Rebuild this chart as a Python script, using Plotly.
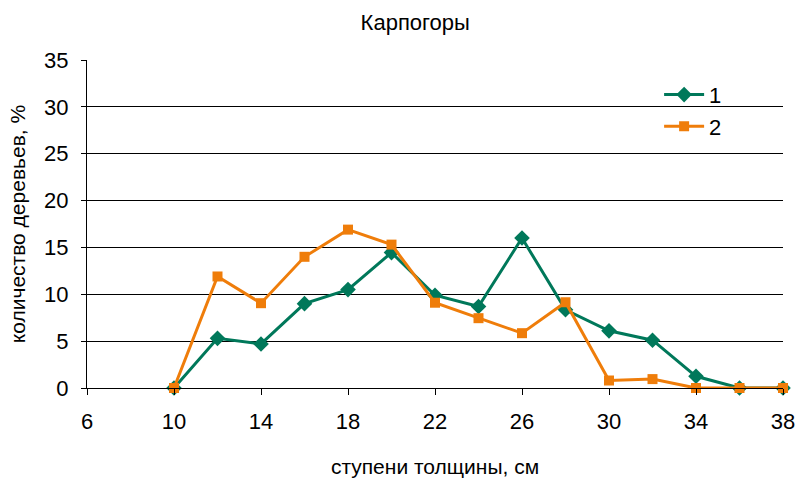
import plotly.graph_objects as go

x_vals = [10, 12, 14, 16, 18, 20, 22, 24, 26, 28, 30, 32, 34, 36, 38]
series1 = [0, 5.3, 4.7, 9.0, 10.5, 14.45, 9.9, 8.7, 16.0, 8.35, 6.1, 5.1, 1.25, 0, 0]
series2 = [0, 11.9, 9.05, 14.0, 16.9, 15.3, 9.1, 7.45, 5.85, 9.15, 0.8, 0.95, 0, 0, 0]
x_ticks = [6, 10, 14, 18, 22, 26, 30, 34, 38]
y_ticks = [0, 5, 10, 15, 20, 25, 30, 35]

green = "#00785A"
orange = "#EF7D0A"
font = "Liberation Sans, Arial, sans-serif"

fig = go.Figure()
fig.add_trace(go.Scatter(x=x_vals, y=series1, name="1", mode="lines+markers",
                         line=dict(color=green, width=3),
                         marker=dict(symbol="diamond", size=12, color=green),
                         cliponaxis=False, legendgroup="a"))
fig.add_trace(go.Scatter(x=x_vals, y=series2, name="2", mode="lines+markers",
                         line=dict(color=orange, width=3),
                         marker=dict(symbol="square", size=10, color=orange),
                         cliponaxis=False, legendgroup="b"))

fig.update_layout(
    width=797, height=478,
    margin=dict(l=87, r=14, t=60, b=90, autoexpand=False),
    paper_bgcolor="white", plot_bgcolor="white",
    font=dict(family=font, size=22, color="#000000"),
    title=dict(text="Карпогоры", x=0.521, xanchor="center", y=0.954, yanchor="middle",
               font=dict(size=22)),
    legend=dict(x=0.822, y=0.958, xanchor="left", yanchor="top",
                bgcolor="rgba(0,0,0,0)", font=dict(size=22),
                traceorder="grouped", tracegroupgap=0, itemwidth=40),
    showlegend=True,
)
fig.update_xaxes(range=[6, 38], tickvals=x_ticks, ticktext=[str(v) for v in x_ticks],
                 showgrid=False, zeroline=False, showline=True, linecolor="#000", linewidth=1,
                 ticks="outside", ticklen=6, tickcolor="#000", ticklabelstandoff=8,
                 automargin=False,
                 title=dict(text="ступени толщины, см", standoff=25, font=dict(size=21)))
fig.update_yaxes(range=[0, 35], tickvals=y_ticks, ticktext=[str(v) for v in y_ticks],
                 showgrid=True, gridcolor="#000", gridwidth=1, zeroline=False,
                 showline=True, linecolor="#000", linewidth=1,
                 ticks="outside", ticklen=5, tickcolor="#000", ticklabelstandoff=8,
                 automargin=False,
                 title=dict(text="количество деревьев, %", standoff=12, font=dict(size=21)))

fig.write_html("out.html", config={"displayModeBar": False},
               post_script="document.body.style.margin='0';")
